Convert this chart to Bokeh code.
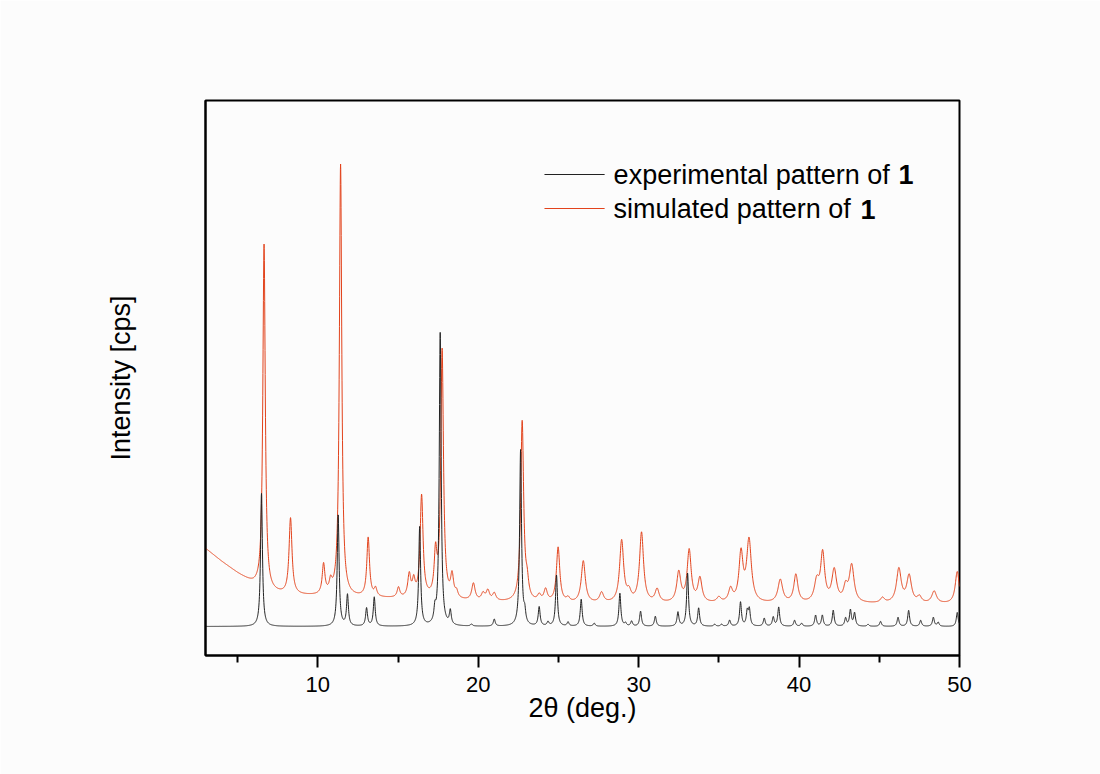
import numpy as np
from bokeh.plotting import figure
from bokeh.models import Range1d, Label, Arrow, FixedTicker
from bokeh.embed import file_html
from bokeh.resources import INLINE

# ---------------- data ----------------
# experimental pattern of 1 (black): peak positions (deg 2theta) and heights
exp_pos = [6.49, 11.27, 11.85, 13.04, 13.52, 16.35, 17.30, 17.63, 18.26, 19.58,
           21.00, 22.64, 22.90, 23.80, 24.35, 24.88, 25.60, 26.42, 27.23, 28.83,
           29.18, 29.56, 30.12, 31.04, 32.45, 33.05, 33.74, 34.74, 35.17, 35.67,
           36.35, 36.77, 36.90, 37.83, 38.39, 38.73, 39.72, 40.16, 41.03, 41.45,
           42.13, 42.90, 43.20, 43.46, 44.30, 45.08, 46.17, 46.83, 47.58, 48.37,
           48.67, 49.86]
exp_int = [1330, 1110, 310, 180, 290, 990, 130, 2930, 140, 20,
           70, 1760, 110, 190, 40, 510, 40, 270, 30, 330,
           30, 50, 150, 100, 140, 530, 180, 20, 20, 60,
           240, 140, 160, 80, 90, 190, 60, 30, 110, 110,
           160, 80, 160, 130, 20, 50, 90, 160, 60, 90,
           40, 140]
exp_fwhm = 0.14

# simulated pattern of 1 (red): peak positions, heights above background, widths
sim_pos = [6.65, 8.30, 10.36, 10.80, 11.42, 13.14, 13.60, 15.03, 15.70, 15.98,
           16.47, 17.34, 17.75, 18.37, 18.65, 19.70, 20.30, 20.60, 21.00, 22.74,
           23.05, 23.80, 24.20, 24.98, 25.60, 26.55, 27.69, 28.94, 29.40, 30.18,
           31.15, 32.50, 33.15, 33.82, 35.00, 35.73, 36.38, 36.88, 38.83, 39.80,
           41.10, 41.47, 42.19, 42.90, 43.28, 45.20, 46.22, 46.86, 47.50, 48.42,
           49.86]
sim_int = [3450, 760, 300, 110, 4320, 590, 80, 100, 225, 155,
           1020, 420, 2480, 220, 60, 170, 70, 100, 75, 1800,
           150, 60, 120, 550, 40, 420, 100, 620, 90, 700,
           130, 300, 520, 240, 50, 130, 480, 620, 230, 280,
           200, 480, 320, 140, 370, 50, 340, 270, 60, 120,
           320]
sim_fwhm = [0.18, 0.22, 0.20, 0.20, 0.18, 0.20, 0.20, 0.20, 0.22, 0.20,
            0.22, 0.20, 0.20, 0.22, 0.20, 0.25, 0.25, 0.25, 0.25, 0.22,
            0.22, 0.25, 0.25, 0.25, 0.25, 0.30, 0.30, 0.30, 0.30, 0.30,
            0.30, 0.30, 0.30, 0.30, 0.30, 0.30, 0.30, 0.35, 0.35, 0.30,
            0.35, 0.30, 0.35, 0.30, 0.35, 0.30, 0.35, 0.35, 0.30, 0.35,
            0.30]
# background of the simulated trace (anchor points)
sim_bg_x = [3, 4, 5, 6, 7, 8, 10, 13, 16, 20, 26, 50]
sim_bg_y = [780, 650, 530, 420, 340, 315, 300, 285, 270, 245, 225, 225]

x_ticks = [10, 20, 30, 40, 50]
x_minor = [5, 15, 25, 35, 45]

two_theta = np.arange(3.0, 50.0001, 0.01)


def lorentz_sum(pos, hts, fw, x):
    fw = np.broadcast_to(np.asarray(fw, dtype=float), (len(pos),))
    y = np.zeros_like(x)
    for c, h, w in zip(pos, hts, fw):
        g = w / 2.0
        y += h * g * g / ((x - c) ** 2 + g * g)
    return y


exp_y = lorentz_sum(exp_pos, exp_int, exp_fwhm, two_theta)
sim_y = np.interp(two_theta, sim_bg_x, sim_bg_y) + lorentz_sum(sim_pos, sim_int, sim_fwhm, two_theta)

# ---------------- figure ----------------
FONT = "Liberation Sans"
p = figure(width=1100, height=774, x_range=Range1d(3, 50), y_range=Range1d(-290, 5260),
           output_backend="svg", toolbar_location=None,
           min_border_left=205, min_border_right=141, min_border_top=100, min_border_bottom=119,
           background_fill_color="#fcfcfc", border_fill_color="#fcfcfc")
p.grid.visible = False
p.outline_line_color = "black"
p.outline_line_width = 2

p.line(two_theta, sim_y, line_color="#e2431c", line_width=1)
p.line(two_theta, exp_y, line_color="#222222", line_width=1)

xa = p.xaxis[0]
xa.ticker = FixedTicker(ticks=x_ticks, minor_ticks=x_minor)
xa.axis_line_width = 2
xa.major_tick_line_width = 2
xa.minor_tick_line_width = 2
xa.major_tick_in = 0
xa.major_tick_out = 12
xa.minor_tick_in = 0
xa.minor_tick_out = 7
xa.major_label_text_font = FONT
xa.major_label_text_font_size = "22px"
xa.major_label_text_color = "black"
xa.major_label_standoff = 9
xa.axis_label = "2θ (deg.)"
xa.axis_label_text_font = FONT
xa.axis_label_text_font_size = "27px"
xa.axis_label_text_font_style = "normal"
xa.axis_label_text_color = "black"
xa.axis_label_standoff = -2

ya = p.yaxis[0]
ya.ticker = FixedTicker(ticks=[])
ya.axis_line_width = 2
ya.major_tick_in = 0
ya.major_tick_out = 0
ya.minor_tick_in = 0
ya.minor_tick_out = 0
ya.major_label_text_font_size = "0px"
ya.axis_label = "Intensity [cps]"
ya.axis_label_text_font = FONT
ya.axis_label_text_font_size = "27px"
ya.axis_label_text_font_style = "normal"
ya.axis_label_text_color = "black"
ya.axis_label_standoff = 70

# legend (drawn by hand to allow the bold compound number)
leg_x0, leg_x1, leg_tx = 24.13, 27.88, 28.44
leg_rows = [("experimental pattern of ", "#222222", 4520, 4520, 46.2),
            ("simulated pattern of ", "#e2431c", 4180, 4175, 43.83)]
for txt, col, yl, yt, xb in leg_rows:
    p.add_layout(Arrow(end=None, x_start=leg_x0, y_start=yl, x_end=leg_x1, y_end=yl,
                       line_color=col, line_width=1))
    p.add_layout(Label(x=leg_tx, y=yt, text=txt, text_font=FONT, text_font_size="27px",
                       text_baseline="alphabetic", text_color="black"))
    p.add_layout(Label(x=xb, y=yt, text="1", text_font=FONT, text_font_size="27px",
                       text_font_style="bold", text_baseline="alphabetic", text_color="black"))

open("out.html", "w").write(file_html(p, INLINE))
